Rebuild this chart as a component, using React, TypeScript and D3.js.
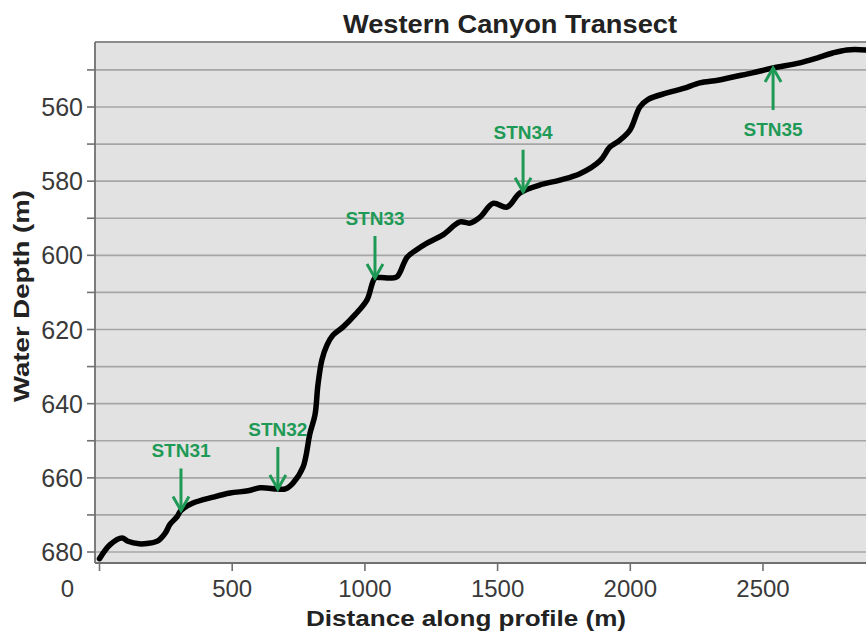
import React from "react";
import * as d3 from "d3";

const distance = [0, 40, 85, 107, 150, 179, 220, 247, 266, 292, 307, 352, 428, 492, 560, 605, 669, 700, 729, 767, 793, 812, 823, 838, 857, 880, 918, 963, 1008, 1038, 1060, 1094, 1121, 1159, 1195, 1234, 1294, 1358, 1396, 1434, 1483, 1535, 1584, 1660, 1735, 1810, 1886, 1923, 1960, 1999, 2036, 2066, 2138, 2200, 2262, 2330, 2387, 2460, 2538, 2639, 2703, 2760, 2816, 2888];
const depth = [681.8, 678, 676.2, 677.1, 677.8, 677.7, 677, 675, 672.5, 670.5, 668.8, 666.8, 665.2, 664.1, 663.5, 662.7, 663, 663, 661.4, 657.1, 648, 643, 635, 628.2, 624.2, 621.5, 619.3, 616, 612, 606.1, 606, 606.1, 605.8, 600.5, 598.5, 596.7, 594.5, 591, 591.3, 589.7, 586, 587, 583.2, 581, 579.7, 578, 574.5, 570.8, 569, 566.2, 560, 558, 556.2, 555, 553.5, 552.8, 551.9, 550.8, 549.5, 548.1, 546.8, 545.5, 544.6, 544.6];

const stationNames = ["STN31", "STN32", "STN33", "STN34", "STN35"];
const stationDistance = [307, 672, 1038, 1596, 2538];
const stationPointsUp = [false, false, false, false, true];

const xTicks = [0, 500, 1000, 1500, 2000, 2500];
const yMajorTicks = [560, 580, 600, 620, 640, 660, 680];
const yGridLines = [550, 560, 570, 580, 590, 600, 610, 620, 630, 640, 650, 660, 670, 680];

const title = "Western Canyon Transect";
const xLabel = "Distance along profile (m)";
const yLabel = "Water Depth (m)";

const W = 866;
const H = 632;
const plot = { left: 95, top: 42, right: 870, bottom: 563 };
const green = "#1f9a56";
const font = "Arial, 'Liberation Sans', sans-serif";

export default function App() {
  const x = d3.scaleLinear().domain([0, 2500]).range([99.5, 763]);
  const y = d3.scaleLinear().domain([560, 680]).range([107, 552]);

  const pts = distance.map((d, i) => [d, depth[i]] as [number, number]);
  const line = d3
    .line<[number, number]>()
    .x((p) => x(p[0]))
    .y((p) => y(p[1]))
    .curve(d3.curveCatmullRom.alpha(0.5));
  const path = line(pts) || "";

  const interp = (dist: number) => {
    const i = d3.bisectRight(distance, dist);
    const i0 = Math.max(0, i - 1);
    const i1 = Math.min(distance.length - 1, i);
    if (i0 === i1) return depth[i0];
    const t = (dist - distance[i0]) / (distance[i1] - distance[i0]);
    return depth[i0] + t * (depth[i1] - depth[i0]);
  };

  return (
    <svg
      width={W}
      height={H}
      style={{ position: "fixed", left: 0, top: 0, background: "#fff" }}
      fontFamily={font}
    >
      <defs>
        <clipPath id="plotclip">
          <rect x={plot.left} y={plot.top} width={plot.right - plot.left} height={plot.bottom - plot.top} />
        </clipPath>
      </defs>
      <rect x={plot.left} y={plot.top} width={plot.right - plot.left} height={plot.bottom - plot.top} fill="#e2e2e2" />
      {yGridLines.map((v) => (
        <line key={"g" + v} x1={plot.left} x2={plot.right} y1={y(v)} y2={y(v)} stroke="#a6a6a6" strokeWidth={1.6} />
      ))}
      <line x1={plot.left} x2={plot.right} y1={plot.top} y2={plot.top} stroke="#8c8c8c" strokeWidth={2} />
      <line x1={plot.left} x2={plot.right} y1={plot.bottom} y2={plot.bottom} stroke="#707070" strokeWidth={1.8} />
      <line x1={plot.left} x2={plot.left} y1={plot.top} y2={plot.bottom} stroke="#707070" strokeWidth={1.8} />
      {yGridLines.map((v) => (
        <line key={"t" + v} x1={plot.left - 8} x2={plot.left} y1={y(v)} y2={y(v)} stroke="#707070" strokeWidth={1.6} />
      ))}
      {yMajorTicks.map((v) => (
        <text key={"yl" + v} x={83} y={y(v) + 9} textAnchor="end" fontSize={25} fill="#3a3a3a">
          {v}
        </text>
      ))}
      {xTicks.map((v) => (
        <g key={"x" + v}>
          <line x1={x(v)} x2={x(v)} y1={plot.bottom} y2={plot.bottom + 8} stroke="#707070" strokeWidth={1.6} />
          <text x={v === 0 ? x(v) - 32 : x(v)} y={597} textAnchor="middle" fontSize={24} fill="#3a3a3a">
            {v}
          </text>
        </g>
      ))}
      <g clipPath="url(#plotclip)">
        <path d={path} fill="none" stroke="#000" strokeWidth={5.5} strokeLinejoin="round" strokeLinecap="round" />
      </g>
      {stationNames.map((name, i) => {
        const sx = x(stationDistance[i]);
        const sy = y(interp(stationDistance[i]));
        const up = stationPointsUp[i];
        const dir = up ? 1 : -1;
        const shaftEnd = sy + dir * 42;
        const headY = sy + dir * 14;
        const labelY = up ? sy + 68 : sy - 53;
        return (
          <g key={name}>
            <line x1={sx} x2={sx} y1={sy} y2={shaftEnd} stroke={green} strokeWidth={3} />
            <polyline
              points={`${sx - 8},${headY} ${sx},${sy} ${sx + 8},${headY}`}
              fill="none"
              stroke={green}
              strokeWidth={3}
            />
            <text x={sx} y={labelY} textAnchor="middle" fontSize={19} fontWeight="bold" fill={green}>
              {name}
            </text>
          </g>
        );
      })}
      <text x={510} y={33} textAnchor="middle" fontSize={26} fontWeight="bold" fill="#222" textLength={334} lengthAdjust="spacingAndGlyphs">
        {title}
      </text>
      <text x={466} y={626} textAnchor="middle" fontSize={22} fontWeight="bold" fill="#222" textLength={320} lengthAdjust="spacingAndGlyphs">
        {xLabel}
      </text>
      <text
        transform={`translate(29, 296) rotate(-90)`}
        textAnchor="middle"
        fontSize={22}
        fontWeight="bold"
        fill="#222"
        textLength={212}
        lengthAdjust="spacingAndGlyphs"
      >
        {yLabel}
      </text>
    </svg>
  );
}
